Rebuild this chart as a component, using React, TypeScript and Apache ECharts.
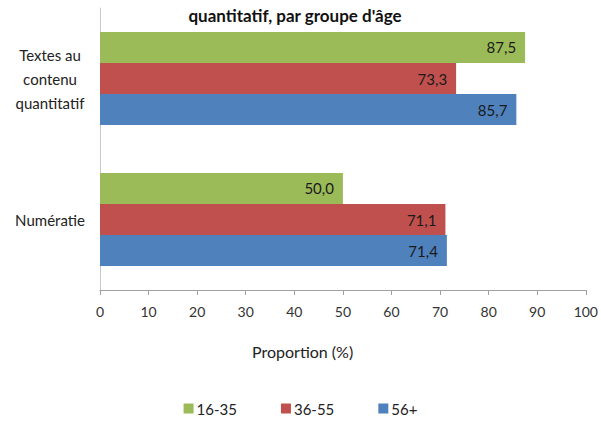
import React, { useEffect, useRef } from "react";
import * as echarts from "echarts";

const categories = ["Numératie", "Textes au\ncontenu\nquantitatif"];
const seriesNames = ["16-35", "36-55", "56+"];
const values16_35 = [50.0, 87.5];
const values36_55 = [71.1, 73.3];
const values56 = [71.4, 85.7];
const colors = ["#9BBB59", "#C0504D", "#4F81BD"];
const xTicks = { min: 0, max: 100, interval: 10 };

const FONT = "Lato, 'Noto Sans', sans-serif";

export default function App() {
  const ref = useRef<HTMLDivElement>(null);
  useEffect(() => {
    if (!ref.current) return;
    const chart = echarts.init(ref.current, undefined, { renderer: "svg" });
    const allValues = [values16_35, values36_55, values56];
    const fmt = (p: any) => Number(p.value).toFixed(1).replace(".", ",");
    chart.setOption({
      animation: false,
      textStyle: { fontFamily: FONT },
      title: {
        text: "quantitatif, par groupe d'âge",
        left: 290,
        top: 2,
        textAlign: "center",
        textStyle: { fontFamily: FONT, fontSize: 17, fontWeight: "bold", color: "#111" },
      },
      legend: {
        data: seriesNames,
        bottom: 0,
        left: "center",
        itemWidth: 10,
        itemHeight: 10,
        itemGap: 44,
        icon: "rect",
        textStyle: { fontFamily: FONT, fontSize: 15, color: "#222", padding: [0, 0, 0, -2] },
      },
      grid: { left: 100, right: 14, top: 8, bottom: 131, containLabel: false },
      xAxis: {
        type: "value",
        min: xTicks.min,
        max: xTicks.max,
        interval: xTicks.interval,
        splitLine: { show: false },
        axisLine: { show: true, lineStyle: { color: "#A0A0A0" } },
        axisTick: { show: true, length: 5, lineStyle: { color: "#A0A0A0" } },
        axisLabel: { fontFamily: FONT, fontSize: 14, color: "#333", margin: 14 },
      },
      yAxis: {
        type: "category",
        data: categories,
        axisLine: { show: true, lineStyle: { color: "#C8C8C8" } },
        axisTick: { show: false },
        axisLabel: {
          fontFamily: FONT,
          fontSize: 15,
          color: "#222",
          lineHeight: 24,
          align: "center",
          margin: 50,
        },
      },
      graphic: [
        {
          type: "text",
          left: 252,
          top: 343,
          style: { text: "Proportion (%)", font: `16px ${FONT}`, fill: "#222" },
        },
      ],
      series: seriesNames.map((name, i) => ({
        name,
        type: "bar",
        data: allValues[i],
        barGap: "0%",
        barCategoryGap: "34%",
        itemStyle: { color: colors[i] },
        label: {
          show: true,
          position: "insideRight",
          distance: 9,
          formatter: fmt,
          fontFamily: FONT,
          fontSize: 15,
          color: "#1a1a1a",
        },
      })),
    });
    return () => chart.dispose();
  }, []);
  return <div ref={ref} style={{ width: 601, height: 421, position: "absolute", left: 0, top: 0 }} />;
}
